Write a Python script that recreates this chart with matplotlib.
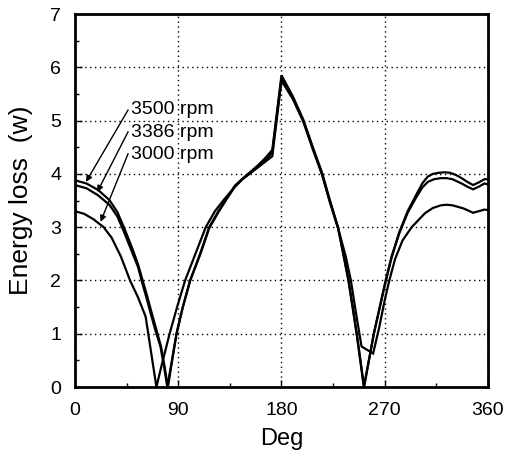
import numpy as np
import matplotlib.pyplot as plt
from matplotlib.ticker import MultipleLocator

plt.rcParams['font.family'] = ['Liberation Sans', 'DejaVu Sans']

# 3500 rpm
deg_3500 = [0, 10, 20, 30, 37, 43, 50, 55, 59, 63, 67, 71, 75, 78, 81,
            88.5, 94, 100.4, 109.4, 117, 125, 132, 139.4, 146, 152, 160, 166, 172,
            180, 190, 199, 207, 215.4, 222, 229.3, 234, 238.5, 242.5, 246, 252,
            260.5, 267, 270.5, 276, 282.6, 290, 298, 303, 307.6, 312, 317, 322, 327,
            332, 337, 342, 347, 352, 357, 360]
loss_3500 = [3.88, 3.82, 3.7, 3.51, 3.28, 2.98, 2.6, 2.3, 2.0, 1.7, 1.38, 1.07, 0.76, 0.4, 0.0,
             1.0, 1.5, 2.0, 2.52, 3.0, 3.3, 3.53, 3.78, 3.91, 4.02, 4.17, 4.3, 4.45,
             5.85, 5.45, 5.02, 4.52, 4.02, 3.52, 3.0, 2.5, 2.0, 1.45, 0.95, 0.0,
             1.0, 1.63, 1.97, 2.45, 2.9, 3.3, 3.63, 3.83, 3.95, 4.0, 4.02, 4.03, 4.02,
             3.98, 3.92, 3.85, 3.79, 3.84, 3.9, 3.9]

# 3386 rpm
deg_3386 = [0, 10, 20, 30, 37, 42, 50, 55, 58, 62, 66, 70, 74.5, 77.5, 80.5,
            88.5, 94, 100.4, 109.4, 117, 125, 132, 139.4, 146, 152, 160, 166, 172,
            180, 190, 199, 207, 215.4, 222, 229.3, 233.8, 238.3, 242.3, 245.8, 251.8,
            260.5, 267, 270.5, 276, 282.6, 290, 298, 303, 307.6, 313, 319, 324, 329,
            333, 337, 342, 347, 352, 357, 360]
loss_3386 = [3.79, 3.73, 3.6, 3.42, 3.2, 2.95, 2.52, 2.25, 2.0, 1.7, 1.38, 1.07, 0.76, 0.4, 0.0,
             1.0, 1.5, 2.0, 2.5, 2.98, 3.28, 3.52, 3.76, 3.9, 4.0, 4.14, 4.26, 4.4,
             5.8, 5.42, 5.0, 4.5, 4.0, 3.5, 2.98, 2.5, 2.0, 1.45, 0.95, 0.0,
             1.0, 1.62, 1.95, 2.43, 2.88, 3.27, 3.58, 3.75, 3.85, 3.9, 3.92, 3.92, 3.9,
             3.86, 3.82, 3.76, 3.71, 3.76, 3.82, 3.8]

# 3000 rpm
deg_3000 = [0, 8, 16, 25, 32, 40, 48, 55, 61.6, 66, 71,
            76, 82.5, 89, 96, 105, 114, 122, 130, 139.4, 146, 152, 160, 166, 172,
            180, 190, 199, 207, 215.4, 222, 229.5, 236, 240.5, 245, 249.8,
            259.9, 265, 270, 274, 279, 285.5, 293.5, 305, 312, 319, 324, 329,
            334, 338.8, 343, 347, 352, 357, 360]
loss_3000 = [3.3, 3.25, 3.15, 3.0, 2.8, 2.45, 2.0, 1.68, 1.32, 0.7, 0.0,
             0.45, 1.0, 1.5, 2.0, 2.5, 3.0, 3.3, 3.52, 3.76, 3.9, 4.0, 4.13, 4.23, 4.33,
             5.75, 5.4, 4.98, 4.48, 3.98, 3.48, 2.97, 2.45, 2.0, 1.38, 0.76,
             0.63, 1.1, 1.63, 2.0, 2.4, 2.75, 3.0, 3.26, 3.36, 3.41, 3.42, 3.41,
             3.38, 3.35, 3.31, 3.27, 3.3, 3.33, 3.32]

labels = ['3500 rpm', '3386 rpm', '3000 rpm']
label_pos = [(49, 5.21), (49, 4.77), (49, 4.37)]
arrow_from = [(46.3, 5.2), (46.3, 4.79), (46.3, 4.38)]
arrow_to = [(9.6, 3.85), (19.4, 3.66), (22.3, 3.1)]

fig = plt.figure(figsize=(5.09, 4.58), dpi=100)
ax = fig.add_axes([0.1473, 0.155, 0.8114, 0.8144])

for d, v in [(deg_3500, loss_3500), (deg_3386, loss_3386), (deg_3000, loss_3000)]:
    ax.plot(d, v, color='black', lw=1.6, solid_joinstyle='miter')

for lab, p, a, b in zip(labels, label_pos, arrow_from, arrow_to):
    ax.text(p[0], p[1], lab, fontsize=14, ha='left', va='center')
    ax.annotate('', xy=b, xytext=a,
                arrowprops=dict(arrowstyle='-|>', color='black', lw=1,
                                mutation_scale=9, shrinkA=0, shrinkB=0))

ax.set_xlim(0, 360)
ax.set_ylim(0, 7)
ax.set_xticks([0, 90, 180, 270, 360])
ax.set_yticks(range(0, 8))
ax.xaxis.set_minor_locator(MultipleLocator(45))
ax.yaxis.set_minor_locator(MultipleLocator(0.5))
ax.grid(True, which='major', color='black', lw=1, linestyle=(0, (1, 2.5)))
ax.tick_params(which='both', direction='in', width=1)
ax.tick_params(which='major', length=5, labelsize=14)
ax.tick_params(axis='y', which='major', pad=10)
ax.tick_params(axis='x', which='major', pad=11)
ax.tick_params(which='minor', length=3)
for s in ax.spines.values():
    s.set_linewidth(2)

ax.set_xlabel('Deg', fontsize=17, labelpad=6)
ax.set_ylabel('Energy loss  (w)', fontsize=19, labelpad=12)

fig.savefig('out.png', dpi=100)
